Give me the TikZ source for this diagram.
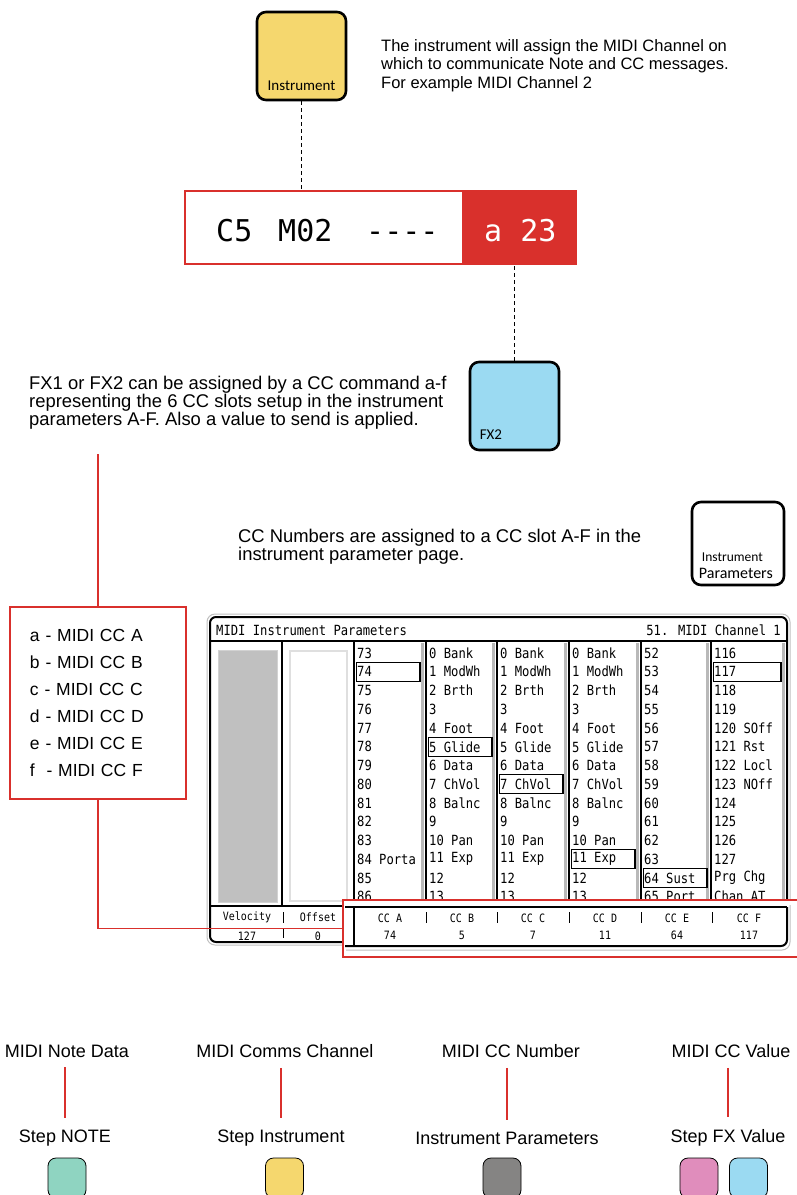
\documentclass[tikz,border=0pt]{standalone}
\usepackage{fontspec}
\setmainfont{Liberation Sans}
\newfontfamily\scrfont[FakeStretch=0.87]{DejaVu Sans Mono}
\newfontfamily\dispfont{DejaVu Sans Mono}
\newfontfamily\lblfont{Carlito}
\usetikzlibrary{positioning}

\definecolor{midired}{HTML}{D9302C}
\definecolor{instyellow}{HTML}{F5D76E}
\definecolor{fxblue}{HTML}{9BDAF2}
\definecolor{noteteal}{HTML}{8FD4C1}
\definecolor{paramgray}{HTML}{858483}
\definecolor{fxpink}{HTML}{E08DBC}
\definecolor{barfill}{HTML}{C0C0C0}

\tikzset{
  padbox/.style={draw=black, line width=2.6pt, rounded corners=9pt, minimum width=89pt, minimum height=88pt, inner sep=0pt},
  padlabel/.style={font=\lblfont\fontsize{15}{16}\selectfont, inner sep=0pt},
  bodytext/.style={font=\fontsize{16.5}{18.7}\selectfont, align=left, inner sep=0pt, anchor=north west},
  bigtext/.style={bodytext, font=\fontsize{18.4}{18.2}\selectfont},
  redline/.style={draw=midired, line width=1.4pt},
  dashline/.style={draw=black, line width=1.6pt, dash pattern=on 4pt off 3pt},
  disptext/.style={font=\dispfont\fontsize{30}{30}\selectfont, anchor=base west, inner sep=0pt},
  cell/.style={font=\scrfont\fontsize{14}{14}\selectfont, anchor=west, inner sep=0pt},
  selbox/.style={draw=black, line width=1.1pt},
  barlabel/.style={font=\scrfont\fontsize{11.5}{12}\selectfont, inner sep=0pt},
  legtext/.style={font=\fontsize{18}{20}\selectfont, inner sep=0pt},
  legline/.style={redline, shorten <=10pt, shorten >=12pt},
  swatch/.style={draw=black, line width=0.8pt, rounded corners=8pt, minimum width=38pt, minimum height=40pt, inner sep=0pt},
}

\begin{document}
\begin{tikzpicture}[x=1pt, y=-1pt]
\useasboundingbox (0,0) rectangle (796,1195);

% instrument pad and step display
\node[padbox, fill=instyellow] (inst) at (301.5,56) {};
\node[padlabel, anchor=base] (instlbl) at ([yshift=11pt]inst.south) {Instrument};
\node[bodytext] (insttext) at (381,39) {The instrument will assign the MIDI Channel on\\which to communicate Note and CC messages.\\For example MIDI Channel 2};

\node[draw=midired, line width=1.4pt, minimum width=391pt, minimum height=73pt, inner sep=0pt] (disp) at (380.5,227.5) {};
\fill[midired] (462,191) rectangle (disp.south east);
\node[disptext] (dnote) at (216,241) {C5};
\node[disptext] (dchan) at (278,241) {M02};
\node[disptext] (dfx) at (366,241) {----};
\node[disptext, white] (dval) at (484,241) {a 23};
\draw[dashline] (inst.south) -- (inst.south |- disp.north);

% fx pad
\node[padbox, fill=fxblue] (fx) at (514.5,406) {};
\node[padlabel, anchor=base west] (fxlbl) at ([xshift=11pt, yshift=12pt]fx.south west) {FX2};
\draw[dashline] (fx.north) -- (fx.north |- disp.south);
\node[bigtext] (fxtext) at (29,376) {FX1 or FX2 can be assigned by a CC command a-f\\representing the 6 CC slots setup in the instrument\\parameters A-F. Also a value to send is applied.};

% cc slot list
\node[draw=midired, line width=1.4pt, fill=white, minimum width=176pt, minimum height=192pt,
  text width=136pt, inner xsep=20pt, align=left, font=\fontsize{17.5}{27}\selectfont] (cclist) at (98,703)
  {a - MIDI CC A\\b - MIDI CC B\\c - MIDI CC C\\d - MIDI CC D\\e - MIDI CC E\\f~ - MIDI CC F};
\draw[redline] (cclist.north) -- ([yshift=-24pt]cclist.north |- fxtext.south);

% instrument parameters pad
\node[bigtext] (cctext) at (238,529) {CC Numbers are assigned to a CC slot A-F in the\\instrument parameter page.};
\node[padbox, fill=white, minimum width=92pt, minimum height=83pt] (params) at (738,543.5) {};
\node[font=\lblfont\fontsize{13.5}{14}\selectfont, anchor=base west, inner sep=0pt] (paramlbl1) at ([xshift=11pt, yshift=25pt]params.south west) {Instrument};
\node[font=\lblfont\fontsize{16}{16}\selectfont, anchor=base west, inner sep=0pt] (paramlbl2) at ([xshift=8pt, yshift=8pt]params.south west) {Parameters};

% screen
\draw[gray!50, line width=1pt, rounded corners=8pt] (207,614) rectangle (790,945);
\draw[line width=2pt, rounded corners=6pt] (210,617) rectangle (787,942);
\node[cell] (title) at (216,630) {MIDI Instrument Parameters};
\node[cell, anchor=east] (chantitle) at (781,630) {51. MIDI Channel 1};
\draw[line width=1.2pt] (210,641) -- (787,641);
\foreach \cx in {426,497,569,641,711,787}
  \fill[gray!55] (\cx-5,643) rectangle (\cx-2,904);
\foreach \cx in {282,354,426,497,569,641,711}
  \draw[line width=1.2pt] (\cx,641) -- (\cx,906);
\draw[gray!35, line width=1pt, fill=barfill] (218,650) rectangle (277,902);
\draw[gray!25, line width=2pt, fill=white] (290,651) rectangle (347,901);

\foreach \t [count=\r] in {73,74,75,76,77,78,79,80,81,82,83,84 Porta,85,86}
  \node[cell] (cthree\r) at (357,{634.25+18.75*\r}) {\t};
\foreach \cx [count=\k] in {429,500,572}
  \foreach \t [count=\r] in {0 Bank,1 ModWh,2 Brth,3,4 Foot,5 Glide,6 Data,7 ChVol,8 Balnc,9,10 Pan,11 Exp,12,13}
    \node[cell] (cmid\k r\r) at (\cx,{634.25+18.75*\r}) {\t};
\foreach \t [count=\r] in {52,53,54,55,56,57,58,59,60,61,62,63,64 Sust,65 Port}
  \node[cell] (cseven\r) at (644,{634.25+18.75*\r}) {\t};
\foreach \t [count=\r] in {116,117,118,119,120 SOff,121 Rst,122 Locl,123 NOff,124,125,126,127,Prg Chg,Chan AT}
  \node[cell] (ceight\r) at (714,{634.25+18.75*\r}) {\t};
\foreach \lx/\r/\w in {355/2/65, 427/6/65, 498/8/65, 570/12/65, 642/13/65, 712/2/69}
  \draw[selbox] (\lx+1.5,{634.25+18.75*\r-9.5}) rectangle (\lx+\w,{634.25+18.75*\r+9.5});

\draw[line width=1.6pt] (210,906) -- (787,906);
\begin{scope}
  \clip (210,906) rectangle (343,939);
  \node[barlabel] (velo) at (247,917) {Velocity};
  \node[barlabel] (offs) at (318,917) {Offset};
  \node[barlabel] (veloval) at (247,936) {127};
  \node[barlabel] (offsval) at (318,936) {0};
  \draw (283,912) -- (283,923) (283,928) -- (283,938);
\end{scope}

% cc slots of the screen
\node[draw=midired, line width=1.4pt, fill=white, minimum width=460pt, minimum height=57pt, inner sep=0pt] (ccrow) at (573,928.5) {};
\draw[redline] (cclist.south) |- (ccrow.west);
\draw[gray!50, line width=1pt, rounded corners=8pt] (346,950) -- (790,950) -- (790,905);
\draw[line width=1.6pt] (345,907) -- (787,907);
\draw[line width=2pt, rounded corners=6pt] (345,946) -- (787,946) -- (787,907);
\draw[line width=1.2pt] (354,907) -- (354,946);
\foreach \cx in {426,497,569,641,712}
  \draw (\cx,912) -- (\cx,923);
\foreach \lbl/\val/\cx in {A/74/390, B/5/462, C/7/533, D/11/605, E/64/677, F/117/749} {
  \node[barlabel] (cc\lbl) at (\cx,918) {CC \lbl};
  \node[barlabel] (val\lbl) at (\cx,935) {\val};
}

% legend
\node[legtext] (notedata) at (67,1051) {MIDI Note Data};
\node[legtext] (commsdata) at (285,1051) {MIDI Comms Channel};
\node[legtext] (ccnumdata) at (511,1051) {MIDI CC Number};
\node[legtext] (ccvaldata) at (731,1051) {MIDI CC Value};
\node[legtext] (stepnote) at (65,1138) {Step NOTE};
\node[legtext] (stepinst) at (281,1138) {Step Instrument};
\node[legtext] (stepparam) at (507,1138) {Instrument Parameters};
\node[legtext] (stepfx) at (728,1138) {Step FX Value};
\draw[legline] (stepnote.north |- notedata.south) -- (stepnote.north);
\draw[legline] (stepinst.north |- commsdata.south) -- (stepinst.north);
\draw[legline] (stepparam.north |- ccnumdata.south) -- (stepparam.north);
\draw[legline] (stepfx.north |- ccvaldata.south) -- (stepfx.north);
\node[swatch, fill=noteteal] (noteswatch) at (67,1178) {};
\node[swatch, fill=instyellow] (instswatch) at (284.5,1178) {};
\node[swatch, fill=paramgray] (paramswatch) at (502,1178) {};
\node[swatch, fill=fxpink] (pinkswatch) at (699,1178) {};
\node[swatch, fill=fxblue] (blueswatch) at (748.5,1178) {};
\end{tikzpicture}
\end{document}
